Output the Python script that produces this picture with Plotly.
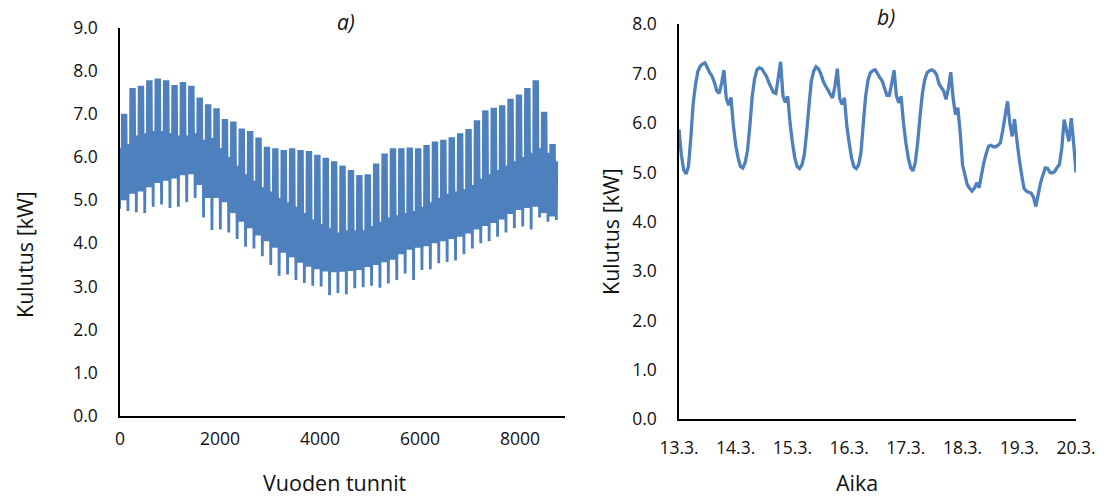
import plotly.graph_objects as go

# ---------------- Data: chart a) (hourly consumption over one year) ----------------
# Weekly envelopes (week index 0..52, weeks starting on Monday;
# hour 0 of the year is a Sunday)
wd_max = [7.00, 7.00, 7.60, 7.65, 7.78, 7.82, 7.78, 7.67, 7.74, 7.65,
          7.38, 7.22, 7.13, 6.88, 6.82, 6.66, 6.60, 6.45, 6.24, 6.20,
          6.16, 6.20, 6.16, 6.14, 6.05, 5.98, 5.90, 5.80, 5.70, 5.58,
          5.60, 5.85, 6.08, 6.20, 6.20, 6.22, 6.20, 6.28, 6.36, 6.40,
          6.46, 6.55, 6.65, 6.85, 7.08, 7.14, 7.20, 7.35, 7.45, 7.60,
          7.78, 7.05, 6.30]
wd_min = [5.00, 5.00, 5.15, 5.20, 5.30, 5.40, 5.45, 5.50, 5.58, 5.60,
          5.35, 5.05, 5.05, 4.95, 4.70, 4.50, 4.35, 4.18, 4.05, 3.90,
          3.78, 3.68, 3.55, 3.46, 3.40, 3.35, 3.33, 3.34, 3.36, 3.38,
          3.45, 3.50, 3.56, 3.62, 3.75, 3.85, 3.90, 3.93, 4.00, 4.05,
          4.10, 4.15, 4.23, 4.32, 4.40, 4.47, 4.55, 4.68, 4.77, 4.82,
          4.85, 4.70, 4.62]
we_max = [6.20, 6.30, 6.50, 6.55, 6.60, 6.60, 6.55, 6.50, 6.50, 6.55,
          6.40, 6.44, 6.20, 6.00, 5.80, 5.60, 5.45, 5.30, 5.20, 5.05,
          4.95, 4.85, 4.70, 4.55, 4.45, 4.35, 4.25, 4.30, 4.30, 4.30,
          4.40, 4.50, 4.60, 4.65, 4.70, 4.75, 4.85, 4.95, 5.05, 5.15,
          5.20, 5.25, 5.35, 5.50, 5.60, 5.70, 5.80, 5.90, 6.00, 6.10,
          6.20, 6.10, 5.90]
we_min = [4.80, 4.75, 4.72, 4.70, 4.85, 4.90, 4.82, 4.85, 4.95, 5.05,
          4.60, 4.31, 4.32, 4.25, 4.10, 3.92, 3.88, 3.70, 3.50, 3.25,
          3.28, 3.15, 3.08, 3.02, 3.00, 2.80, 2.85, 2.82, 2.96, 2.98,
          3.02, 2.97, 3.07, 3.15, 3.30, 3.15, 3.38, 3.40, 3.54, 3.57,
          3.60, 3.75, 3.88, 4.00, 4.05, 4.15, 4.25, 4.35, 4.39, 4.32,
          4.60, 4.50, 4.54]
n_days = 365
a_xticks = [0, 2000, 4000, 6000, 8000]

# ---------------- Data: chart b) (one week, hourly) ----------------
day_13 = [5.87, 5.35, 5.05, 4.97, 5.12, 5.70, 6.40, 6.78, 7.05, 7.15, 7.20, 7.22,
          7.12, 7.02, 6.95, 6.82, 6.65, 6.60, 6.80, 7.07, 6.50, 6.36, 6.52, 5.95]
day_14 = [5.55, 5.30, 5.12, 5.09, 5.20, 5.45, 5.95, 6.55, 6.90, 7.08, 7.12, 7.10,
          7.02, 6.95, 6.82, 6.72, 6.62, 6.60, 6.92, 7.24, 6.55, 6.42, 6.54, 6.00]
day_15 = [5.60, 5.30, 5.12, 5.08, 5.15, 5.35, 5.80, 6.35, 6.85, 7.05, 7.14, 7.10,
          7.00, 6.85, 6.75, 6.68, 6.58, 6.51, 6.75, 7.10, 6.50, 6.38, 6.51, 5.95]
day_16 = [5.60, 5.30, 5.12, 5.08, 5.15, 5.40, 6.00, 6.55, 6.88, 7.02, 7.06, 7.08,
          7.00, 6.92, 6.85, 6.70, 6.56, 6.56, 6.80, 7.07, 6.55, 6.41, 6.54, 6.00]
day_17 = [5.60, 5.30, 5.10, 5.03, 5.20, 5.60, 6.14, 6.60, 6.88, 7.02, 7.06, 7.08,
          7.05, 6.98, 6.80, 6.72, 6.65, 6.48, 6.70, 7.03, 6.50, 6.17, 6.31, 5.80]
day_18 = [5.15, 4.95, 4.75, 4.68, 4.62, 4.68, 4.79, 4.69, 4.95, 5.20, 5.38, 5.53,
          5.55, 5.52, 5.52, 5.55, 5.60, 5.85, 6.15, 6.44, 6.00, 5.73, 6.08, 5.65]
day_19 = [5.26, 4.95, 4.68, 4.62, 4.60, 4.58, 4.50, 4.31, 4.55, 4.79, 4.95, 5.09,
          5.08, 5.00, 4.99, 5.02, 5.10, 5.16, 5.50, 6.07, 5.85, 5.63, 6.10, 5.60]
end_value = [5.00]
b_ticktext = ["13.3.", "14.3.", "15.3.", "16.3.", "17.3.", "18.3.", "19.3.", "20.3."]

# ---------------- Build series ----------------
x_a, y_a = [], []
for d in range(n_days):
    wday = (d + 6) % 7          # 0 = Monday
    k = (d + 6) // 7
    if wday < 5:
        lo, hi = wd_min[k], wd_max[k]
    else:
        lo, hi = we_min[k], we_max[k]
    x_a += [24 * d + 3, 24 * d + 11]
    y_a += [lo, hi]

y_b = day_13 + day_14 + day_15 + day_16 + day_17 + day_18 + day_19 + end_value
x_b = list(range(len(y_b)))

W, H = 1107, 497
def px(x):
    return x / W
def py(y):
    return 1 - y / H

BLUE = "#4E80BD"
FONT = "Open Sans"
TXT = "#111111"

fig = go.Figure()
fig.add_trace(go.Scatter(x=x_a, y=y_a, mode="lines", xaxis="x", yaxis="y",
                         line=dict(color=BLUE, width=1.6, simplify=False),
                         showlegend=False, hoverinfo="skip"))
fig.add_trace(go.Scatter(x=x_b, y=y_b, mode="lines", xaxis="x2", yaxis="y2",
                         line=dict(color=BLUE, width=3.3, simplify=False),
                         showlegend=False, hoverinfo="skip"))

axis_common = dict(showgrid=False, zeroline=False, showline=True, linecolor="#000000",
                   linewidth=1.5, ticks="", automargin=False,
                   tickfont=dict(family=FONT, size=17.5, color=TXT))

fig.update_layout(
    width=W, height=H,
    margin=dict(l=0, r=0, t=0, b=0, autoexpand=False),
    paper_bgcolor="white", plot_bgcolor="white",
    xaxis=dict(domain=[px(120), px(565)], range=[0, 8900], tickvals=a_xticks,
               anchor="y", ticklabelstandoff=6, **axis_common),
    yaxis=dict(domain=[py(416), py(27.5)], range=[0, 9], dtick=1, tickformat=".1f",
               anchor="x", ticklabelstandoff=17, **axis_common),
    xaxis2=dict(domain=[px(679), px(1076)], range=[0, 168],
                tickvals=[24 * i for i in range(8)], ticktext=b_ticktext,
                anchor="y2", ticklabelstandoff=12, **axis_common),
    yaxis2=dict(domain=[py(419.3), py(24.3)], range=[0, 8], dtick=1, tickformat=".1f",
                anchor="x2", ticklabelstandoff=17, **axis_common),
)

ann = dict(xref="paper", yref="paper", showarrow=False, xanchor="center", yanchor="middle")
title_font = dict(family=FONT, size=21.5, color=TXT)
fig.add_annotation(x=px(335), y=py(482), text="Vuoden tunnit", font=title_font, **ann)
fig.add_annotation(x=px(857), y=py(482), text="Aika", font=title_font, **ann)
fig.add_annotation(x=px(24), y=py(255), text="Kulutus [kW]", textangle=-90, font=title_font, **ann)
fig.add_annotation(x=px(611), y=py(232), text="Kulutus [kW]", textangle=-90, font=title_font, **ann)
fig.add_annotation(x=px(346), y=py(22), text="<i>a)</i>", font=dict(family=FONT, size=21, color=TXT), **ann)
fig.add_annotation(x=px(886), y=py(17), text="<i>b)</i>", font=dict(family=FONT, size=21, color=TXT), **ann)

fig.write_html("out.html")
